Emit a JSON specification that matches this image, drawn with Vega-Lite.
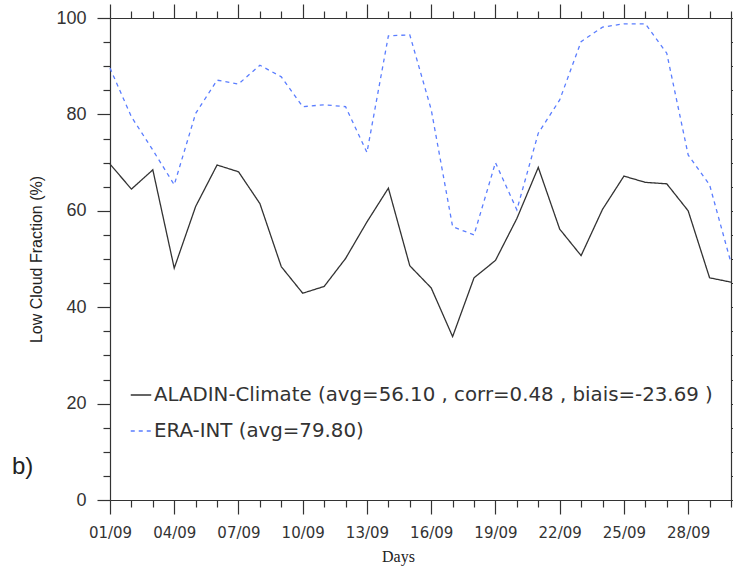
{
  "$schema": "https://vega.github.io/schema/vega-lite/v6.json",
  "width": 621,
  "height": 482,
  "autosize": "none",
  "padding": {"left": 110, "top": 18, "right": 2, "bottom": 69},
  "background": "white",
  "title": {"text": "b)", "orient": "top", "anchor": "start", "frame": "group", "offset": 0, "dx": -98, "dy": 488, "baseline": "middle", "font": "Liberation Sans", "fontSize": 24, "fontWeight": "normal", "color": "#222"},
  "config": {
    "view": {"stroke": null},
    "axis": {"domainColor": "#333", "tickColor": "#333", "domainWidth": 1.2, "tickWidth": 1.2, "grid": false, "labelColor": "#333", "titleColor": "#222"}
  },
  "data": {"values": [
    {"series": "ALADIN-Climate", "day": 1, "value": 69.7},
    {"series": "ALADIN-Climate", "day": 2, "value": 64.5},
    {"series": "ALADIN-Climate", "day": 3, "value": 68.5},
    {"series": "ALADIN-Climate", "day": 4, "value": 48.1},
    {"series": "ALADIN-Climate", "day": 5, "value": 60.9},
    {"series": "ALADIN-Climate", "day": 6, "value": 69.5},
    {"series": "ALADIN-Climate", "day": 7, "value": 68.1},
    {"series": "ALADIN-Climate", "day": 8, "value": 61.5},
    {"series": "ALADIN-Climate", "day": 9, "value": 48.4},
    {"series": "ALADIN-Climate", "day": 10, "value": 42.9},
    {"series": "ALADIN-Climate", "day": 11, "value": 44.3},
    {"series": "ALADIN-Climate", "day": 12, "value": 50.1},
    {"series": "ALADIN-Climate", "day": 13, "value": 57.7},
    {"series": "ALADIN-Climate", "day": 14, "value": 64.7},
    {"series": "ALADIN-Climate", "day": 15, "value": 48.6},
    {"series": "ALADIN-Climate", "day": 16, "value": 44.0},
    {"series": "ALADIN-Climate", "day": 17, "value": 33.9},
    {"series": "ALADIN-Climate", "day": 18, "value": 46.1},
    {"series": "ALADIN-Climate", "day": 19, "value": 49.7},
    {"series": "ALADIN-Climate", "day": 20, "value": 58.4},
    {"series": "ALADIN-Climate", "day": 21, "value": 69.0},
    {"series": "ALADIN-Climate", "day": 22, "value": 56.2},
    {"series": "ALADIN-Climate", "day": 23, "value": 50.7},
    {"series": "ALADIN-Climate", "day": 24, "value": 60.3},
    {"series": "ALADIN-Climate", "day": 25, "value": 67.2},
    {"series": "ALADIN-Climate", "day": 26, "value": 65.9},
    {"series": "ALADIN-Climate", "day": 27, "value": 65.6},
    {"series": "ALADIN-Climate", "day": 28, "value": 60.0},
    {"series": "ALADIN-Climate", "day": 29, "value": 46.1},
    {"series": "ALADIN-Climate", "day": 30, "value": 45.2},
    {"series": "ERA-INT", "day": 1, "value": 89.6},
    {"series": "ERA-INT", "day": 2, "value": 79.5},
    {"series": "ERA-INT", "day": 3, "value": 72.6},
    {"series": "ERA-INT", "day": 4, "value": 65.4},
    {"series": "ERA-INT", "day": 5, "value": 80.2},
    {"series": "ERA-INT", "day": 6, "value": 87.1},
    {"series": "ERA-INT", "day": 7, "value": 86.3},
    {"series": "ERA-INT", "day": 8, "value": 90.2},
    {"series": "ERA-INT", "day": 9, "value": 87.8},
    {"series": "ERA-INT", "day": 10, "value": 81.6},
    {"series": "ERA-INT", "day": 11, "value": 82.0},
    {"series": "ERA-INT", "day": 12, "value": 81.6},
    {"series": "ERA-INT", "day": 13, "value": 72.1},
    {"series": "ERA-INT", "day": 14, "value": 96.3},
    {"series": "ERA-INT", "day": 15, "value": 96.5},
    {"series": "ERA-INT", "day": 16, "value": 81.0},
    {"series": "ERA-INT", "day": 17, "value": 56.7},
    {"series": "ERA-INT", "day": 18, "value": 55.0},
    {"series": "ERA-INT", "day": 19, "value": 70.0},
    {"series": "ERA-INT", "day": 20, "value": 60.2},
    {"series": "ERA-INT", "day": 21, "value": 76.1},
    {"series": "ERA-INT", "day": 22, "value": 83.0},
    {"series": "ERA-INT", "day": 23, "value": 95.1},
    {"series": "ERA-INT", "day": 24, "value": 98.1},
    {"series": "ERA-INT", "day": 25, "value": 98.8},
    {"series": "ERA-INT", "day": 26, "value": 98.8},
    {"series": "ERA-INT", "day": 27, "value": 92.7},
    {"series": "ERA-INT", "day": 28, "value": 71.6},
    {"series": "ERA-INT", "day": 29, "value": 65.4},
    {"series": "ERA-INT", "day": 30, "value": 49.2}
  ]},
  "resolve": {"axis": {"x": "independent", "y": "independent"}},
  "layer": [
    {
      "mark": {"type": "line", "strokeWidth": 1.3},
      "encoding": {
        "x": {"field": "day", "type": "quantitative",
          "scale": {"domain": [1, 30], "nice": false, "zero": false},
          "axis": {"orient": "bottom", "values": [1,2,3,4,5,6,7,8,9,10,11,12,13,14,15,16,17,18,19,20,21,22,23,24,25,26,27,28,29,30],
            "labelExpr": "(datum.value - 1) % 3 === 0 ? (datum.value < 10 ? '0' : '') + datum.value + '/09' : ''",
            "tickSize": {"condition": {"test": "(datum.value - 1) % 3 === 0", "value": 14}, "value": 7},
            "labelFont": "DejaVu Sans", "labelFontSize": 15, "labelPadding": 11, "labelOverlap": false, "labelFlush": false,
            "title": "Days", "titleFont": "Liberation Serif", "titleFontSize": 16, "titleFontWeight": "normal", "titlePadding": 8, "titleX": 288}},
        "y": {"field": "value", "type": "quantitative",
          "scale": {"domain": [0, 100], "nice": false},
          "axis": {"orient": "left", "values": [0,5,10,15,20,25,30,35,40,45,50,55,60,65,70,75,80,85,90,95,100],
            "labelExpr": "datum.value % 20 === 0 ? datum.label : ''",
            "tickSize": {"condition": {"test": "datum.value % 20 === 0", "value": 13}, "value": 7},
            "labelFont": "Liberation Sans", "labelFontSize": 18, "labelPadding": 11, "labelOverlap": false,
            "title": "Low Cloud Fraction (%)", "titleFont": "Liberation Sans", "titleFontSize": 16, "titleFontWeight": "normal", "titlePadding": 11}},
        "color": {"field": "series", "type": "nominal",
          "scale": {"domain": ["ALADIN-Climate", "ERA-INT"], "range": ["#333333", "#5a7dff"]},
          "legend": {"orient": "none", "legendX": 20, "legendY": 366, "title": null, "symbolType": "stroke", "symbolSize": 420, "symbolStrokeWidth": 1.3,
            "labelFont": "DejaVu Sans", "labelFontSize": 19.8, "labelColor": "#333", "labelOffset": 2, "labelLimit": 800, "rowPadding": 15, "padding": 0,
            "labelExpr": "datum.value === 'ERA-INT' ? 'ERA-INT (avg=79.80)' : 'ALADIN-Climate (avg=56.10 , corr=0.48 , biais=-23.69 )'"}},
        "strokeDash": {"field": "series", "type": "nominal",
          "scale": {"domain": ["ALADIN-Climate", "ERA-INT"], "range": [[1, 0], [4, 4]]},
          "legend": null}
      }
    },
    {
      "mark": {"type": "line", "opacity": 0},
      "encoding": {
        "x": {"field": "day", "type": "quantitative",
          "axis": {"orient": "top", "values": [1,2,3,4,5,6,7,8,9,10,11,12,13,14,15,16,17,18,19,20,21,22,23,24,25,26,27,28,29,30],
            "labels": false, "title": null,
            "tickSize": {"condition": {"test": "(datum.value - 1) % 3 === 0", "value": 14}, "value": 7}}},
        "y": {"field": "value", "type": "quantitative",
          "axis": {"orient": "right", "values": [0,5,10,15,20,25,30,35,40,45,50,55,60,65,70,75,80,85,90,95,100],
            "labels": false, "title": null,
            "tickSize": {"condition": {"test": "datum.value % 20 === 0", "value": 13}, "value": 7}}},
        "detail": {"field": "series", "type": "nominal"}
      }
    }
  ]
}
